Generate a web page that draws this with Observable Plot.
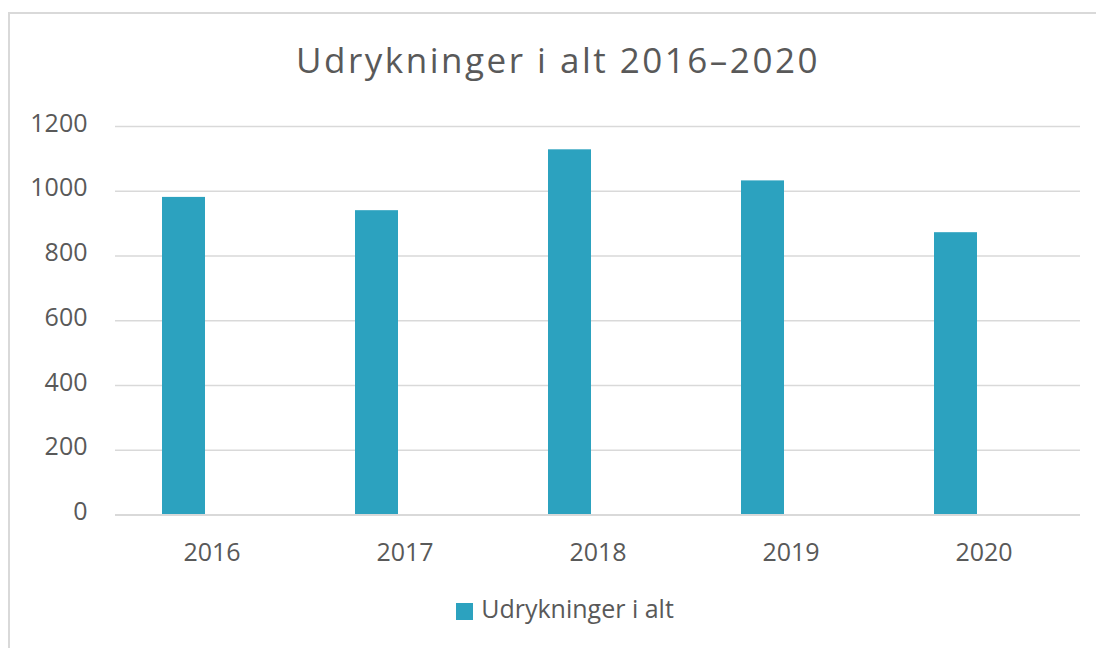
<!DOCTYPE html>
<html>
<head>
<meta charset="utf-8">
<script src="https://cdn.jsdelivr.net/npm/d3@7"></script>
<script src="https://cdn.jsdelivr.net/npm/@observablehq/plot@0.6"></script>
<style>
  html, body { margin: 0; padding: 0; background: #fff; width: 1096px; height: 648px; overflow: hidden; font-family: "Open Sans", sans-serif; color: #595959; }
  #frame { position: absolute; left: 8px; top: 12px; width: 1200px; height: 800px; border: 2px solid #d9d9d9; box-sizing: border-box; }
  #title { position: absolute; left: 9px; width: 1098px; top: 42px; text-align: center; font-size: 35px; line-height: 35px; letter-spacing: 2.5px; color: #595959; white-space: nowrap; }
  #chart { position: absolute; left: 0; top: 100px; }
  #legend { position: absolute; left: 16px; width: 1098px; top: 596px; display: flex; justify-content: center; align-items: center; font-size: 25px; line-height: 25px; color: #595959; }
  #legend .sw { width: 17px; height: 17px; background: #2ca2bf; margin-right: 8px; margin-top: 6px; }
</style>
</head>
<body>
<div id="frame"></div>
<div id="title">Udrykninger i alt 2016–2020</div>
<div id="chart"></div>
<div id="legend"><span class="sw"></span><span id="legendLabel"></span></div>
<script>
const years = ["2016", "2017", "2018", "2019", "2020"];
const values = [981, 940, 1128, 1032, 872];
const yTicks = [0, 200, 400, 600, 800, 1000, 1200];
const seriesName = "Udrykninger i alt";

const data = years.map((y, i) => ({year: y, value: values[i]}));
document.getElementById("legendLabel").textContent = seriesName;

const chart = Plot.plot({
  width: 1096,
  height: 480,
  marginLeft: 115,
  marginRight: 16,
  marginTop: 26,
  marginBottom: 65.5,
  style: {fontFamily: "Open Sans, sans-serif", color: "#595959", background: "transparent"},
  x: {domain: years, padding: 0, label: null},
  y: {domain: [0, 1200], label: null},
  marks: [
    Plot.ruleY(yTicks.filter(d => d > 0), {stroke: "#d9d9d9", strokeWidth: 1.5}),
    Plot.barY(data, {x: "year", y: "value", fill: "#2ca2bf", insetLeft: 47, insetRight: 103}),
    Plot.ruleY([0], {stroke: "#d9d9d9", strokeWidth: 2}),
    Plot.axisY({ticks: yTicks, tickFormat: d => String(d), tickSize: 0, tickPadding: 28, fontSize: 25, fill: "#595959", label: null, dy: -3}),
    Plot.axisX({tickSize: 0, tickPadding: 28, fontSize: 25, fill: "#595959", label: null})
  ]
});
document.getElementById("chart").appendChild(chart);
</script>
</body>
</html>
